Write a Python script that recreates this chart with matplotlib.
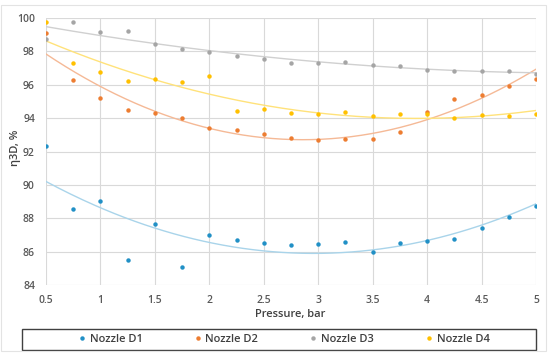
import numpy as np
import matplotlib
matplotlib.use("Agg")
import matplotlib.pyplot as plt
from matplotlib.patches import Rectangle

pressure = [0.5, 0.75, 1.0, 1.25, 1.5, 1.75, 2.0, 2.25, 2.5, 2.75,
            3.0, 3.25, 3.5, 3.75, 4.0, 4.25, 4.5, 4.75, 5.0]
d1 = [92.32, 88.56, 89.02, 85.5, 87.64, 85.1, 87.02, 86.7, 86.5, 86.4,
      86.48, 86.58, 86.0, 86.54, 86.62, 86.76, 87.4, 88.1, 88.74]
d2 = [99.12, 96.26, 95.22, 94.48, 94.32, 94.0, 93.42, 93.28, 93.02, 92.82,
      92.7, 92.74, 92.76, 93.18, 94.36, 95.14, 95.4, 95.94, 96.34]
d3 = [98.72, 99.76, 99.16, 99.2, 98.44, 98.12, 97.96, 97.74, 97.52, 97.32,
      97.32, 97.36, 97.2, 97.14, 96.9, 96.8, 96.84, 96.82, 96.66]
d4 = [99.78, 97.28, 96.74, 96.22, 96.36, 96.14, 96.52, 94.42, 94.52, 94.32,
      94.26, 94.36, 94.12, 94.22, 94.24, 94.02, 94.16, 94.14, 94.26]
names = ["Nozzle D1", "Nozzle D2", "Nozzle D3", "Nozzle D4"]
xticks = [0.5, 1, 1.5, 2, 2.5, 3, 3.5, 4, 4.5, 5]
xticklabels = ["0.5", "1", "1.5", "2", "2.5", "3", "3.5", "4", "4.5", "5"]
yticks = [84, 86, 88, 90, 92, 94, 96, 98, 100]

colors = ["#2190c6", "#ed7d31", "#a5a5a5", "#ffc000"]
trend_colors = ["#a9d4ea", "#f5b996", "#d0d0d0", "#ffe27a"]

plt.rcParams['font.family'] = ['Open Sans', 'DejaVu Sans']

fig = plt.figure(figsize=(5.5, 3.55), dpi=100)
ax = fig.add_axes([46/550, 1-285/355, (536-46)/550, (285-18)/355])

x = np.array(pressure)
xs = np.linspace(0.5, 5, 200)
for ys, c, tc, n in zip([d1, d2, d3, d4], colors, trend_colors, names):
    coef = np.polyfit(x, np.array(ys), 2)
    ax.plot(xs, np.polyval(coef, xs), color=tc, lw=1.0, zorder=2)
    ax.plot(x, ys, 'o', color=c, ms=3.2, mec='none', label=n, zorder=3)

ax.set_xlim(0.5, 5)
ax.set_ylim(84, 100)
ax.set_xticks(xticks)
ax.set_xticklabels(xticklabels)
ax.set_yticks(yticks)
ax.grid(True, color="#d9d9d9", lw=0.8)
ax.set_axisbelow(True)
for s in ax.spines.values():
    s.set_visible(False)
ax.tick_params(axis='both', length=0, labelsize=7.5, labelcolor="#595959")
ax.tick_params(axis='x', pad=7)
ax.tick_params(axis='y', pad=8)
for lab in ax.get_xticklabels() + ax.get_yticklabels():
    lab.set_fontweight('semibold')
ax.set_xlabel("Pressure, bar", fontsize=8, color="#404040", fontweight='semibold')
ax.set_ylabel("η3D, %", fontsize=8, color="#404040", fontweight='semibold')
ax.xaxis.set_label_coords((290-46)/490, -(315-285)/267, transform=ax.transAxes)
ax.yaxis.set_label_coords((15-46)/490, (285-148)/267, transform=ax.transAxes)
ax.xaxis.label.set_va('center')
ax.yaxis.label.set_va('center')

leg = fig.legend(loc='center', bbox_to_anchor=(283/550, 1-339.5/355),
                 ncol=4, frameon=False,
                 prop={'size': 8, 'weight': 'semibold'}, handletextpad=0.2,
                 handlelength=1.0, columnspacing=4.45, borderaxespad=0)
for t in leg.get_texts():
    t.set_color("#404040")

fig.patches.append(Rectangle((22/550, 1-350/355), 514/550, 21/355, transform=fig.transFigure,
                             fill=False, edgecolor="#404040", lw=1.0))
fig.patches.append(Rectangle((0.002, 4/355), 545/550, 346/355, transform=fig.transFigure,
                             fill=False, edgecolor="#e3e3e3", lw=0.8))

fig.savefig("out.png", dpi=100)
